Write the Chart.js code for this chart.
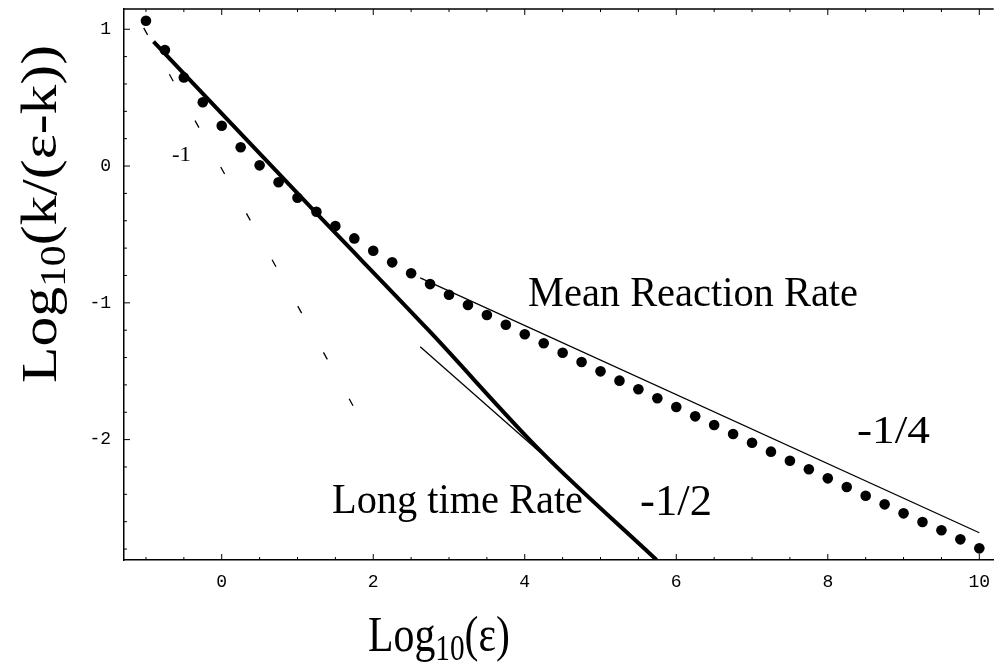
<!DOCTYPE html>
<html>
<head>
<meta charset="utf-8">
<script src="https://cdn.jsdelivr.net/npm/chart.js@4.4.0/dist/chart.umd.min.js"></script>
<style>
  html, body { margin: 0; padding: 0; background: #fff; }
</style>
</head>
<body>
<canvas id="chart" width="999" height="665"></canvas>
<script>
// axis ticks
const xTickValues = [0, 2, 4, 6, 8, 10];
const yTickValues = [1, 0, -1, -2];

// mean reaction rate (dots)
const dotX = [-1, -0.75, -0.5, -0.25, 0, 0.25, 0.5, 0.75, 1, 1.25,
  1.5, 1.75, 2, 2.25, 2.5, 2.75, 3, 3.25, 3.5, 3.75,
  4, 4.25, 4.5, 4.75, 5, 5.25, 5.5, 5.75, 6, 6.25,
  6.5, 6.75, 7, 7.25, 7.5, 7.75, 8, 8.25, 8.5, 8.75,
  9, 9.25, 9.5, 9.75, 10];
const dotY = [1.062, 0.848, 0.648, 0.466, 0.295, 0.137, 0.005, -0.119, -0.232, -0.334,
  -0.439, -0.529, -0.619, -0.704, -0.784, -0.863, -0.941, -1.016, -1.089, -1.160,
  -1.230, -1.296, -1.365, -1.433, -1.501, -1.569, -1.632, -1.698, -1.762, -1.830,
  -1.893, -1.959, -2.023, -2.088, -2.154, -2.217, -2.283, -2.346, -2.410, -2.473,
  -2.539, -2.602, -2.663, -2.729, -2.795];

// long time rate (thick curve)
const longX = [-0.9, 1.23, 2.73, 4.22, 5.74];
const longY = [0.91, -0.334, -1.20, -2.09, -2.88];

// slope -1/4 guide
const quarterX = [2.62, 10.0];
const quarterY = [-0.817, -2.681];

// slope -1/2 tangent
const halfX = [2.62, 4.3];
const halfY = [-1.321, -2.14];

// slope -1 dashed guide
const unitX = [-1.03, 1.78];
const unitY = [1.01, -1.80];

const pts = (xs, ys) => xs.map((x, i) => ({ x: x, y: ys[i] }));
const SERIF = '"Liberation Serif", "Times New Roman", serif';

function fitText(ctx, text, x, base, size, width) {
    ctx.font = size + 'px ' + SERIF;
    const w = ctx.measureText(text).width;
    ctx.save();
    ctx.translate(x, base);
    ctx.scale(width / w, 1);
    ctx.fillText(text, 0, 0);
    ctx.restore();
}

// "Log" + subscript "10" + rest, squeezed to a given length
function logTitle(ctx, rest, size, length) {
    const sub = size * 0.7;
    ctx.font = size + 'px ' + SERIF;
    const w1 = ctx.measureText('Log').width;
    const w3 = ctx.measureText(rest).width;
    ctx.font = sub + 'px ' + SERIF;
    const w2 = ctx.measureText('10').width;
    ctx.scale(length / (w1 + w2 + w3), 1);
    ctx.font = size + 'px ' + SERIF;
    ctx.fillText('Log', 0, 0);
    ctx.font = sub + 'px ' + SERIF;
    ctx.fillText('10', w1, size * 0.18);
    ctx.font = size + 'px ' + SERIF;
    ctx.fillText(rest, w1 + w2, 0);
}

const decor = {
    id: 'decor',
    afterDraw(chart) {
        const ctx = chart.ctx;
        const a = chart.chartArea;
        const xs = chart.scales.x, ys = chart.scales.y;
        ctx.save();
        ctx.strokeStyle = '#000';
        ctx.fillStyle = '#000';

        // top frame line
        ctx.lineWidth = 1.5;
        ctx.beginPath();
        ctx.moveTo(a.left, a.top);
        ctx.lineTo(a.right, a.top);
        ctx.stroke();

        // inward ticks
        ctx.lineWidth = 1;
        ctx.beginPath();
        for (let v = -1; v <= 10; v += 0.5) {
            const px = xs.getPixelForValue(v);
            const len = (v % 2 === 0) ? 6 : 3;
            ctx.moveTo(px, a.bottom); ctx.lineTo(px, a.bottom - len);
            ctx.moveTo(px, a.top); ctx.lineTo(px, a.top + len);
        }
        for (let k = -14; k <= 5; k++) {
            const v = k / 5;
            const py = ys.getPixelForValue(v);
            const len = (k % 5 === 0) ? 6 : 3;
            ctx.moveTo(a.left, py); ctx.lineTo(a.left + len, py);
        }
        ctx.stroke();

        // annotations
        ctx.textAlign = 'left';
        ctx.textBaseline = 'alphabetic';
        fitText(ctx, 'Mean Reaction Rate', 528, 306, 42, 330);
        fitText(ctx, 'Long time Rate', 332, 513, 43, 251);
        fitText(ctx, '-1/2', 640, 515, 44, 72);
        fitText(ctx, '-1/4', 857, 443, 40, 73);
        fitText(ctx, '-1', 172, 161, 20, 19);

        // axis titles
        ctx.save();
        ctx.translate(368, 651);
        logTitle(ctx, '(ε)', 50, 142);
        ctx.restore();

        ctx.save();
        ctx.translate(56, 383);
        ctx.rotate(-Math.PI / 2);
        logTitle(ctx, '(k/(ε-k))', 50, 338);
        ctx.restore();

        ctx.restore();
    }
};

const tickFont = { family: '"Liberation Mono", "DejaVu Sans Mono", monospace', size: 18 };

new Chart(document.getElementById('chart').getContext('2d'), {
    type: 'scatter',
    data: {
        datasets: [
            {
                label: 'Mean Reaction Rate',
                data: pts(dotX, dotY),
                pointRadius: 5.3,
                pointBackgroundColor: '#000',
                pointBorderWidth: 0,
                showLine: false
            },
            {
                label: 'Long time Rate',
                data: pts(longX, longY),
                showLine: true,
                borderColor: '#000',
                borderWidth: 4,
                cubicInterpolationMode: 'monotone',
                pointRadius: 0
            },
            {
                label: '-1/4',
                data: pts(quarterX, quarterY),
                showLine: true,
                borderColor: '#000',
                borderWidth: 1.3,
                pointRadius: 0
            },
            {
                label: '-1/2',
                data: pts(halfX, halfY),
                showLine: true,
                borderColor: '#000',
                borderWidth: 1.3,
                pointRadius: 0
            },
            {
                label: '-1',
                data: pts(unitX, unitY),
                showLine: true,
                borderColor: '#000',
                borderWidth: 1.3,
                borderDash: [8, 45],
                pointRadius: 0
            }
        ]
    },
    options: {
        responsive: false,
        animation: false,
        layout: { padding: { top: 9, right: 0, bottom: 0, left: 0 } },
        plugins: {
            legend: { display: false },
            tooltip: { enabled: false }
        },
        scales: {
            x: {
                type: 'linear',
                min: -1.29,
                max: 10.19,
                grid: { display: false, drawTicks: false },
                border: { display: true, color: '#000', width: 1.5 },
                ticks: { color: '#000', font: tickFont, padding: 11, maxRotation: 0, callback: v => String(v) },
                afterBuildTicks: s => { s.ticks = xTickValues.map(v => ({ value: v })); },
                afterFit: s => { s.height = 105; s.paddingLeft = 0; s.paddingRight = 0; }
            },
            y: {
                type: 'linear',
                min: -2.88,
                max: 1.148,
                grid: { display: false, drawTicks: false },
                border: { display: true, color: '#000', width: 1.5 },
                ticks: { color: '#000', font: tickFont, padding: 13, callback: v => String(v) },
                afterBuildTicks: s => { s.ticks = yTickValues.map(v => ({ value: v })); },
                afterFit: s => { s.width = 124; s.paddingTop = 0; s.paddingBottom = 0; }
            }
        }
    },
    plugins: [decor]
});
</script>
</body>
</html>
